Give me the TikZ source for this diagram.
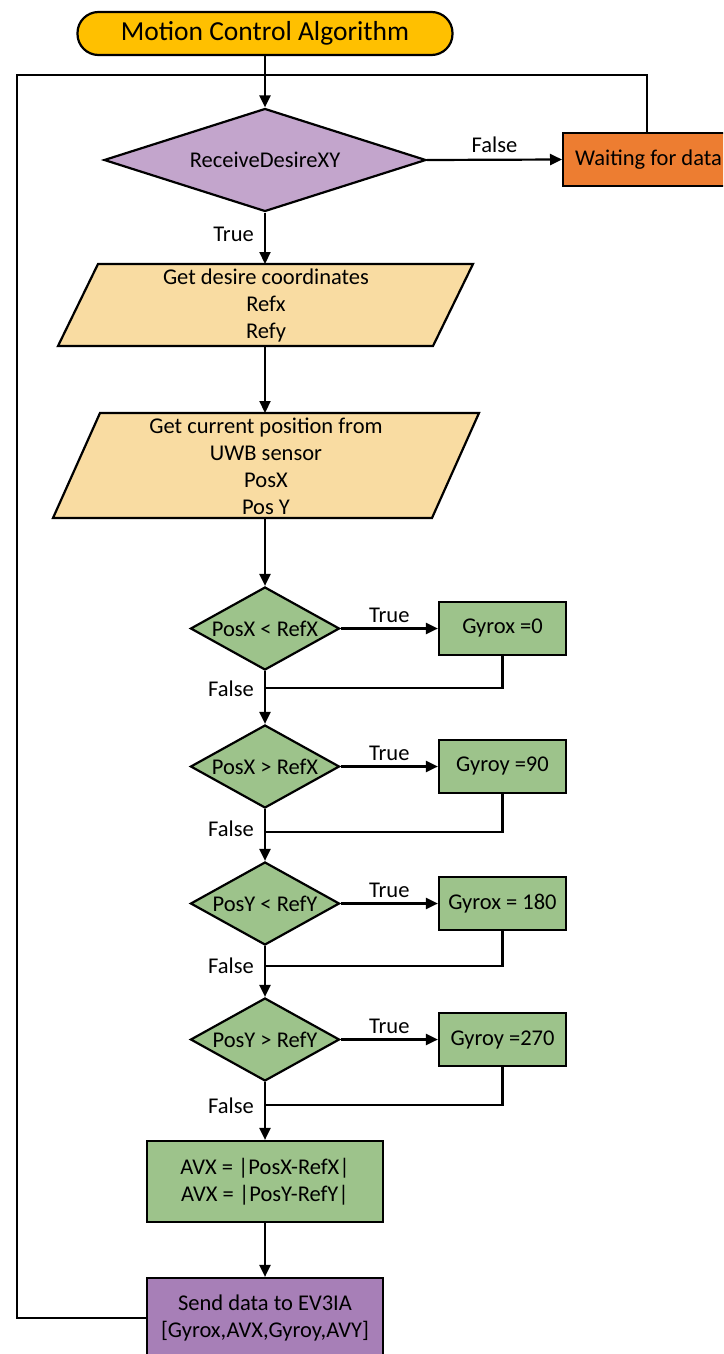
\documentclass[tikz,border=0pt]{standalone}
\usepackage{fontspec}
\setmainfont{Carlito}
\usetikzlibrary{arrows.meta,shapes.geometric}
\definecolor{termgold}{HTML}{FFC000}
\definecolor{recvpurple}{HTML}{C3A5CC}
\definecolor{waitorange}{HTML}{ED7D31}
\definecolor{parfill}{HTML}{F9DCA2}
\definecolor{decgreen}{HTML}{9DC38B}
\definecolor{sendpurple}{HTML}{A77FB7}
\newcommand\fsz{\fontsize{22.5}{27}\selectfont}
\newcommand\fbig{\fontsize{27.5}{32}\selectfont}
\begin{document}
\begin{tikzpicture}[x=1pt,y=-1pt]
\tikzset{
  conn/.style={line width=2.2pt, draw=black},
  arr/.style={conn, -{Triangle[length=12pt,width=11pt]}},
  box/.style={draw, line width=2.2pt, inner sep=0pt, align=center, font=\fsz},
  dec/.style={draw, shape=diamond, line width=2.2pt, inner sep=0pt, aspect=2, font=\fsz},
  lbl/.style={font=\fsz, inner sep=0pt},
  par/.style={draw, line width=2.2pt, fill=parfill}
}
\useasboundingbox (0,0) rectangle (723,1354);
\clip (0,0) rectangle (723,1354);

% start
\node[box, fill=termgold, rounded corners=21pt, minimum width=375pt, minimum height=43pt, font=\fbig] (start) at (265,33.5) {Motion Control Algorithm};

% receive decision
\node[dec, fill=recvpurple, minimum width=322pt, minimum height=103pt] (recv) at (265,160) {ReceiveDesireXY};
\node[box, fill=waitorange, minimum height=53pt, inner xsep=12pt, anchor=west] (wait) at (562,159.5) {Waiting for data};

% parallelograms
\path[par] (98,264) -- (473,264) -- (433,346) -- (58,346) -- cycle;
\node[lbl, align=center] (in1) at (266,305) {Get desire coordinates\\Refx\\Refy};
\coordinate (p1t) at (265,264);
\coordinate (p1b) at (265,346);

\path[par] (100,413) -- (479,413) -- (432,518) -- (53,518) -- cycle;
\node[lbl, align=center] (in2) at (266,466) {Get current position from\\UWB sensor\\PosX\\Pos Y};
\coordinate (p2t) at (265,413);
\coordinate (p2b) at (265,518);

% decisions
\node[dec, fill=decgreen, minimum width=149pt, minimum height=83pt] (d1) at (265,628.5) {PosX < RefX};
\node[box, fill=decgreen, minimum width=127pt, minimum height=53pt] (g1) at (502.5,628.5) {Gyrox =0};
\node[dec, fill=decgreen, minimum width=149pt, minimum height=83pt] (d2) at (265,766.5) {PosX > RefX};
\node[box, fill=decgreen, minimum width=127pt, minimum height=53pt] (g2) at (502.5,766.5) {Gyroy =90};
\node[dec, fill=decgreen, minimum width=149pt, minimum height=83pt] (d3) at (265,903.5) {PosY < RefY};
\node[box, fill=decgreen, minimum width=127pt, minimum height=53pt] (g3) at (502.5,903.5) {Gyrox = 180};
\node[dec, fill=decgreen, minimum width=149pt, minimum height=83pt] (d4) at (265,1039.5) {PosY > RefY};
\node[box, fill=decgreen, minimum width=127pt, minimum height=53pt] (g4) at (502.5,1039.5) {Gyroy =270};

\coordinate (j1) at (265,688);
\coordinate (j2) at (265,832);
\coordinate (j3) at (265,966);
\coordinate (j4) at (265,1105);

% process boxes
\node[box, fill=decgreen, minimum width=236pt, minimum height=81pt] (avx) at (265,1181.5) {AVX = |PosX-RefX|\\AVX = |PosY-RefY|};
\node[box, fill=sendpurple, minimum width=236pt, minimum height=80pt] (send) at (265,1318) {Send data to EV3IA\\{}[Gyrox,AVX,Gyroy,AVY]};

% loop coordinates
\coordinate (ltl) at (17,75);
\coordinate (ltr) at (647,75);
\coordinate (wtop) at (647,133);

% connectors
\draw[arr] (start.south) -- (recv.north);
\draw[arr] (recv.east) -- node[lbl, above=6pt] {False} (wait.west);
\draw[conn] (send.west) -| (ltl) -- (ltr) -- (wtop);
\draw[arr] (recv.south) -- (p1t);
\node[lbl, anchor=east] (t0) at (254,234) {True};
\draw[arr] (p1b) -- (p2t);
\draw[arr] (p2b) -- (d1.north);

\draw[arr] (d1.east) -- node[lbl, above=5pt] {True} (g1.west);
\draw[conn] (g1.south) |- (j1);
\node[lbl, anchor=east] (f1) at (254,689) {False};
\draw[arr] (d1.south) -- (d2.north);

\draw[arr] (d2.east) -- node[lbl, above=5pt] {True} (g2.west);
\draw[conn] (g2.south) |- (j2);
\node[lbl, anchor=east] (f2) at (254,829) {False};
\draw[arr] (d2.south) -- (d3.north);

\draw[arr] (d3.east) -- node[lbl, above=5pt] {True} (g3.west);
\draw[conn] (g3.south) |- (j3);
\node[lbl, anchor=east] (f3) at (254,966) {False};
\draw[arr] (d3.south) -- (d4.north);

\draw[arr] (d4.east) -- node[lbl, above=5pt] {True} (g4.west);
\draw[conn] (g4.south) |- (j4);
\node[lbl, anchor=east] (f4) at (254,1106) {False};
\draw[arr] (d4.south) -- (avx.north);

\draw[arr] (avx.south) -- (send.north);
\end{tikzpicture}
\end{document}
